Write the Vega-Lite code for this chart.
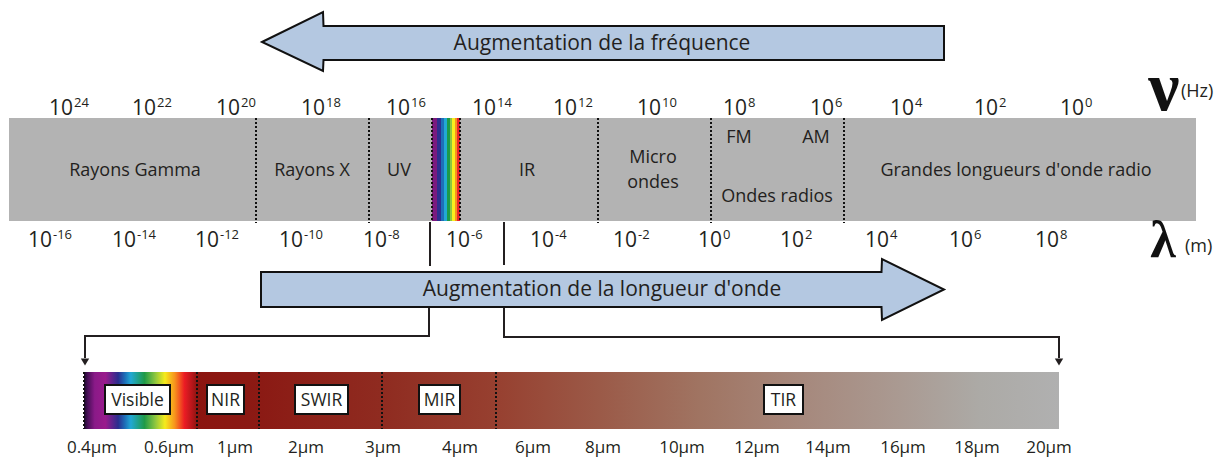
{
  "$schema": "https://vega.github.io/schema/vega-lite/v6.json",
  "width": 1227,
  "height": 459,
  "autosize": {"type": "none"},
  "padding": 0,
  "background": "white",
  "config": {"view": {"stroke": null}},
  "datasets": {
    "band": [{"x": 9, "x2": 1196, "y": 118, "y2": 221}],
    "vis": [{"x": 432, "x2": 460, "y": 118, "y2": 221}],
    "dots": [
      {"x": 256, "y": 118, "y2": 223},
      {"x": 369, "y": 118, "y2": 223},
      {"x": 432, "y": 118, "y2": 221},
      {"x": 460, "y": 118, "y2": 221},
      {"x": 598, "y": 118, "y2": 223},
      {"x": 711, "y": 118, "y2": 223},
      {"x": 844, "y": 118, "y2": 223}
    ],
    "bandlabels": [
      {"label": "Rayons Gamma", "x": 135, "y": 176},
      {"label": "Rayons X", "x": 312, "y": 176},
      {"label": "UV", "x": 399, "y": 176},
      {"label": "IR", "x": 527, "y": 176},
      {"label": "Micro", "x": 653, "y": 163},
      {"label": "ondes", "x": 653, "y": 188},
      {"label": "FM", "x": 739, "y": 143},
      {"label": "AM", "x": 816, "y": 143},
      {"label": "Ondes radios", "x": 777, "y": 202},
      {"label": "Grandes longueurs d'onde radio", "x": 1016, "y": 176}
    ],
    "ticks": [
      {"exp": "24", "x": 73, "y": 115},
      {"exp": "22", "x": 156, "y": 115},
      {"exp": "20", "x": 240, "y": 115},
      {"exp": "18", "x": 325, "y": 115},
      {"exp": "16", "x": 410, "y": 115},
      {"exp": "14", "x": 496, "y": 115},
      {"exp": "12", "x": 577, "y": 115},
      {"exp": "10", "x": 661, "y": 115},
      {"exp": "8", "x": 747, "y": 115},
      {"exp": "6", "x": 834, "y": 115},
      {"exp": "4", "x": 914, "y": 115},
      {"exp": "2", "x": 998, "y": 115},
      {"exp": "0", "x": 1084, "y": 115},
      {"exp": "-16", "x": 52, "y": 247},
      {"exp": "-14", "x": 136, "y": 247},
      {"exp": "-12", "x": 219, "y": 247},
      {"exp": "-10", "x": 303, "y": 247},
      {"exp": "-8", "x": 387, "y": 247},
      {"exp": "-6", "x": 470, "y": 247},
      {"exp": "-4", "x": 554, "y": 247},
      {"exp": "-2", "x": 637, "y": 247},
      {"exp": "0", "x": 722, "y": 247},
      {"exp": "2", "x": 804, "y": 247},
      {"exp": "4", "x": 889, "y": 247},
      {"exp": "6", "x": 973, "y": 247},
      {"exp": "8", "x": 1059, "y": 247}
    ],
    "nu": [{"label": "ν", "x": 1164, "y": 110}],
    "lambda": [{"label": "λ", "x": 1163, "y": 257}],
    "units": [
      {"label": "(Hz)", "x": 1181, "y": 97},
      {"label": "(m)", "x": 1185, "y": 252}
    ],
    "arrows": [
      {"id": "f", "x": 262, "y": 42, "y2": 42},
      {"id": "f", "x": 323, "y": 12, "y2": 71},
      {"id": "f", "x": 323.5, "y": 26, "y2": 60},
      {"id": "f", "x": 944, "y": 26, "y2": 60},
      {"id": "w", "x": 261, "y": 272, "y2": 307},
      {"id": "w", "x": 881.5, "y": 272, "y2": 307},
      {"id": "w", "x": 882, "y": 259, "y2": 320},
      {"id": "w", "x": 944, "y": 289.5, "y2": 289.5}
    ],
    "arrowtext": [
      {"label": "Augmentation de la fréquence", "x": 602, "y": 50},
      {"label": "Augmentation de la longueur d'onde", "x": 602, "y": 296}
    ],
    "brackets": [
      {"id": "a", "o": 1, "x": 430, "y": 222},
      {"id": "a", "o": 2, "x": 430, "y": 266},
      {"id": "b", "o": 1, "x": 504, "y": 222},
      {"id": "b", "o": 2, "x": 504, "y": 265},
      {"id": "c", "o": 1, "x": 429, "y": 308},
      {"id": "c", "o": 2, "x": 429, "y": 336},
      {"id": "c", "o": 3, "x": 85, "y": 336},
      {"id": "c", "o": 4, "x": 85, "y": 358},
      {"id": "d", "o": 1, "x": 504, "y": 308},
      {"id": "d", "o": 2, "x": 504, "y": 337},
      {"id": "d", "o": 3, "x": 1059, "y": 337},
      {"id": "d", "o": 4, "x": 1059, "y": 358}
    ],
    "heads": [
      {"x": 85, "y": 362},
      {"x": 1059, "y": 362}
    ],
    "strip": [{"x": 84, "x2": 1059, "y": 372, "y2": 429}],
    "stripdots": [
      {"x": 84, "y": 372, "y2": 429},
      {"x": 197, "y": 372, "y2": 429},
      {"x": 259, "y": 372, "y2": 429},
      {"x": 382, "y": 372, "y2": 429},
      {"x": 496, "y": 372, "y2": 429}
    ],
    "boxes": [
      {"x": 105, "x2": 170, "y": 385, "y2": 414},
      {"x": 207, "x2": 244, "y": 385, "y2": 414},
      {"x": 295, "x2": 348, "y": 385, "y2": 414},
      {"x": 419, "x2": 460, "y": 385, "y2": 414},
      {"x": 764, "x2": 803, "y": 385, "y2": 414}
    ],
    "boxlabels": [
      {"label": "Visible", "x": 137.5, "y": 406},
      {"label": "NIR", "x": 225.5, "y": 406},
      {"label": "SWIR", "x": 321.5, "y": 406},
      {"label": "MIR", "x": 439.5, "y": 406},
      {"label": "TIR", "x": 783.5, "y": 406}
    ],
    "microns": [
      {"label": "0.4μm", "x": 92, "y": 453},
      {"label": "0.6μm", "x": 169, "y": 453},
      {"label": "1μm", "x": 235, "y": 453},
      {"label": "2μm", "x": 306, "y": 453},
      {"label": "3μm", "x": 383, "y": 453},
      {"label": "4μm", "x": 460, "y": 453},
      {"label": "6μm", "x": 533, "y": 453},
      {"label": "8μm", "x": 603, "y": 453},
      {"label": "10μm", "x": 682, "y": 453},
      {"label": "12μm", "x": 757, "y": 453},
      {"label": "14μm", "x": 828, "y": 453},
      {"label": "16μm", "x": 903, "y": 453},
      {"label": "18μm", "x": 977, "y": 453},
      {"label": "20μm", "x": 1049, "y": 453}
    ]
  },
  "encoding": {
    "x": {"field": "x", "type": "quantitative", "scale": {"domain": [0, 1227], "nice": false, "zero": false}, "axis": null},
    "y": {"field": "y", "type": "quantitative", "scale": {"domain": [0, 459], "reverse": true, "nice": false, "zero": false}, "axis": null, "stack": null}
  },
  "layer": [
    {
      "data": {"name": "band"},
      "mark": {"type": "rect", "fill": "#b3b3b3"},
      "encoding": {"x2": {"field": "x2"}, "y2": {"field": "y2"}}
    },
    {
      "data": {"name": "vis"},
      "mark": {"type": "rect", "fill": {"gradient": "linear", "x1": 0, "y1": 0, "x2": 1, "y2": 0, "stops": [
        {"offset": 0, "color": "#7a1a7e"}, {"offset": 0.18, "color": "#7a1a7e"},
        {"offset": 0.18, "color": "#2e2e8f"}, {"offset": 0.33, "color": "#2e2e8f"},
        {"offset": 0.33, "color": "#1d6fb8"}, {"offset": 0.42, "color": "#1d6fb8"},
        {"offset": 0.42, "color": "#22a8d4"}, {"offset": 0.54, "color": "#22a8d4"},
        {"offset": 0.54, "color": "#1c9a48"}, {"offset": 0.63, "color": "#1c9a48"},
        {"offset": 0.63, "color": "#8cc640"}, {"offset": 0.72, "color": "#8cc640"},
        {"offset": 0.72, "color": "#f8ee1e"}, {"offset": 0.81, "color": "#f8ee1e"},
        {"offset": 0.81, "color": "#f7941d"}, {"offset": 0.9, "color": "#f7941d"},
        {"offset": 0.9, "color": "#e8262a"}, {"offset": 1, "color": "#e8262a"}
      ]}},
      "encoding": {"x2": {"field": "x2"}, "y2": {"field": "y2"}}
    },
    {
      "data": {"name": "dots"},
      "mark": {"type": "rule", "color": "#111111", "strokeWidth": 2, "strokeDash": [2, 2]},
      "encoding": {"y2": {"field": "y2"}}
    },
    {
      "data": {"name": "bandlabels"},
      "mark": {"type": "text", "align": "center", "baseline": "alphabetic", "font": "Open Sans", "fontSize": 18, "color": "#231f20"},
      "encoding": {"text": {"field": "label"}}
    },
    {
      "data": {"name": "ticks"},
      "mark": {"type": "text", "align": "right", "baseline": "alphabetic", "font": "Open Sans", "fontSize": 21, "color": "#231f20"},
      "encoding": {"text": {"value": "10"}}
    },
    {
      "data": {"name": "ticks"},
      "mark": {"type": "text", "align": "left", "baseline": "alphabetic", "font": "Open Sans", "fontSize": 13, "dx": 1, "dy": -8, "color": "#231f20"},
      "encoding": {"text": {"field": "exp"}}
    },
    {
      "data": {"name": "nu"},
      "mark": {"type": "text", "align": "center", "baseline": "alphabetic", "font": "Liberation Serif", "fontWeight": "bold", "fontSize": 70, "color": "#111111"},
      "encoding": {"text": {"field": "label"}}
    },
    {
      "data": {"name": "lambda"},
      "mark": {"type": "text", "align": "center", "baseline": "alphabetic", "font": "Liberation Serif", "fontWeight": "bold", "fontSize": 52, "color": "#111111"},
      "encoding": {"text": {"field": "label"}}
    },
    {
      "data": {"name": "units"},
      "mark": {"type": "text", "align": "left", "baseline": "alphabetic", "font": "Open Sans", "fontSize": 18, "color": "#231f20"},
      "encoding": {"text": {"field": "label"}}
    },
    {
      "data": {"name": "arrows"},
      "mark": {"type": "area", "fill": "#b4c8e1", "stroke": "#111111", "strokeWidth": 2, "strokeJoin": "miter", "strokeMiterLimit": 20},
      "encoding": {"y2": {"field": "y2"}, "detail": {"field": "id"}}
    },
    {
      "data": {"name": "arrowtext"},
      "mark": {"type": "text", "align": "center", "baseline": "alphabetic", "font": "Open Sans", "fontSize": 21, "color": "#231f20"},
      "encoding": {"text": {"field": "label"}}
    },
    {
      "data": {"name": "brackets"},
      "mark": {"type": "line", "color": "#231f20", "strokeWidth": 2, "strokeJoin": "miter"},
      "encoding": {"detail": {"field": "id"}, "order": {"field": "o", "type": "quantitative"}}
    },
    {
      "data": {"name": "heads"},
      "mark": {"type": "point", "shape": "triangle-down", "filled": true, "size": 70, "color": "#231f20", "opacity": 1}
    },
    {
      "data": {"name": "strip"},
      "mark": {"type": "rect", "fill": {"gradient": "linear", "x1": 0, "y1": 0, "x2": 1, "y2": 0, "stops": [
        {"offset": 0, "color": "#1a0a2a"},
        {"offset": 0.004, "color": "#4b0f5a"},
        {"offset": 0.011, "color": "#8a1a88"},
        {"offset": 0.022, "color": "#9a1a8c"},
        {"offset": 0.035, "color": "#2b2d8e"},
        {"offset": 0.042, "color": "#1d6fb8"},
        {"offset": 0.048, "color": "#22a8d4"},
        {"offset": 0.062, "color": "#1f9a48"},
        {"offset": 0.073, "color": "#8dc63f"},
        {"offset": 0.083, "color": "#f5eb1c"},
        {"offset": 0.093, "color": "#f7941d"},
        {"offset": 0.103, "color": "#ec1c24"},
        {"offset": 0.111, "color": "#b5161a"},
        {"offset": 0.116, "color": "#8b1510"},
        {"offset": 0.181, "color": "#8b1a14"},
        {"offset": 0.304, "color": "#8f2b20"},
        {"offset": 0.423, "color": "#974030"},
        {"offset": 0.529, "color": "#9b5a48"},
        {"offset": 0.632, "color": "#a07462"},
        {"offset": 0.734, "color": "#a6887c"},
        {"offset": 0.837, "color": "#aa9a92"},
        {"offset": 0.919, "color": "#acaaa6"},
        {"offset": 1, "color": "#b0b0b0"}
      ]}},
      "encoding": {"x2": {"field": "x2"}, "y2": {"field": "y2"}}
    },
    {
      "data": {"name": "stripdots"},
      "mark": {"type": "rule", "color": "#111111", "strokeWidth": 2, "strokeDash": [2, 2]},
      "encoding": {"y2": {"field": "y2"}}
    },
    {
      "data": {"name": "boxes"},
      "mark": {"type": "rect", "fill": "white", "stroke": "#111111", "strokeWidth": 2},
      "encoding": {"x2": {"field": "x2"}, "y2": {"field": "y2"}}
    },
    {
      "data": {"name": "boxlabels"},
      "mark": {"type": "text", "align": "center", "baseline": "alphabetic", "font": "Open Sans", "fontSize": 17.5, "color": "#231f20"},
      "encoding": {"text": {"field": "label"}}
    },
    {
      "data": {"name": "microns"},
      "mark": {"type": "text", "align": "center", "baseline": "alphabetic", "font": "Open Sans", "fontSize": 17, "color": "#231f20"},
      "encoding": {"text": {"field": "label"}}
    }
  ]
}
